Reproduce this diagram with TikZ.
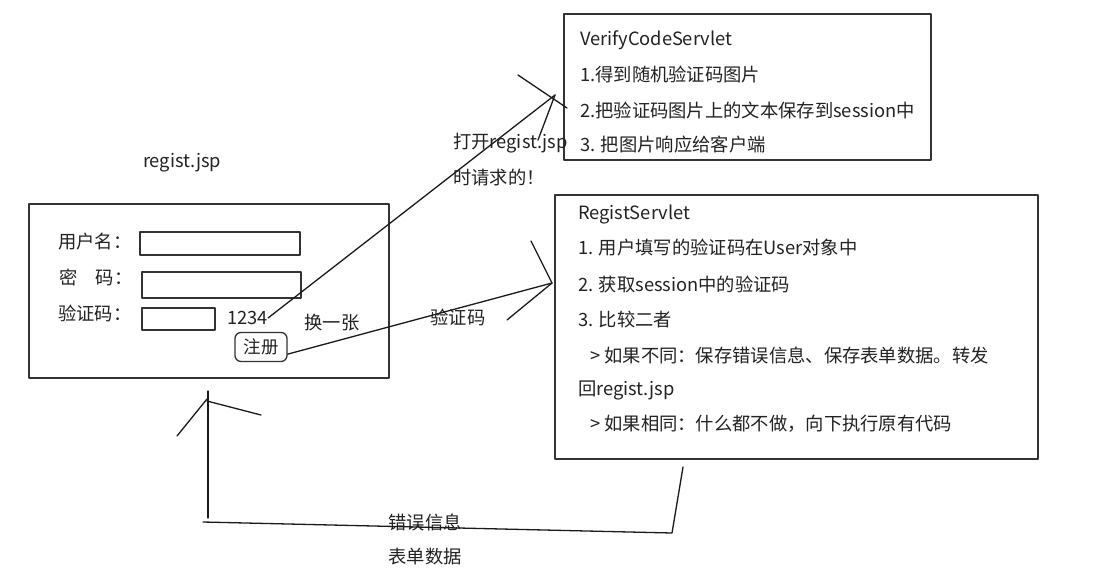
\documentclass[tikz,border=0pt]{standalone}
\usepackage{fontspec}
\setmainfont{Noto Sans CJK SC}
\usetikzlibrary{positioning}
\definecolor{sketchInk}{HTML}{222222}
\definecolor{sketchLine}{HTML}{333333}
\definecolor{sketchPen}{HTML}{1A1A1A}

\begin{document}
\begin{tikzpicture}[x=1pt,y=-1pt,line cap=round,line join=round]
\path[fill=white] (0,0) rectangle (1093,584);
\tikzset{box/.style={draw=sketchLine,line width=1.8pt,inner sep=0pt,anchor=north west},field/.style={draw=sketchLine,line width=1.5pt,inner sep=0pt,anchor=north west},txt/.style={text=sketchInk,inner sep=0pt,font=\fontsize{18.3}{22}\selectfont},pen/.style={draw=sketchPen,line width=1.3pt}}
% form page
\node[txt] (title) at (182,163) {regist.jsp};
\node[box,minimum width=360pt,minimum height=174pt] (form) at (28,203) {};
\node[txt,anchor=west] (userlbl) at (58,242) {用户名：};
\node[txt,anchor=west] (pwdlbl) at (59,277) {密　码：};
\node[txt,anchor=west] (codelbl) at (58,313) {验证码：};
\node[field,minimum width=160pt,minimum height=23pt] (userfield) at (139,231) {};
\node[field,minimum width=159pt,minimum height=26pt] (pwdfield) at (141,271) {};
\node[field,minimum width=73pt,minimum height=22pt] (codefield) at (141,307) {};
\node[txt,anchor=west] (codeimg) at (227,318) {1234};
\node[txt] (swap) at (332,323) {换一张};
\node[draw=sketchLine,line width=1.3pt,rounded corners=6pt,minimum width=52pt,minimum height=29pt,inner sep=0pt,font=\fontsize{17.5}{20}\selectfont,text=sketchInk] (regbtn) at (261,347) {注册};
% servlets
\node[box,minimum width=367pt,minimum height=146pt] (verify) at (563,13) {};
\node[txt,anchor=west] (v0) at (580,40) {VerifyCodeServlet};
\node[txt,anchor=west] (v1) at (580,74) {1.得到随机验证码图片};
\node[txt,anchor=west] (v2) at (580,110) {2.把验证码图片上的文本保存到session中};
\node[txt,anchor=west] (v3) at (580,145) {3. 把图片响应给客户端};
\node[box,minimum width=483pt,minimum height=264pt] (regist) at (554,194) {};
\node[txt,anchor=west] (r0) at (578,214) {RegistServlet};
\node[txt,anchor=west] (r1) at (578,248) {1. 用户填写的验证码在User对象中};
\node[txt,anchor=west] (r2) at (578,284) {2. 获取session中的验证码};
\node[txt,anchor=west] (r3) at (578,320) {3. 比较二者};
\node[txt,anchor=west] (r4) at (590,355) {> 如果不同：保存错误信息、保存表单数据。转发};
\node[txt,anchor=west] (r5) at (578,390) {回regist.jsp};
\node[txt,anchor=west] (r6) at (590,424) {> 如果相同：什么都不做，向下执行原有代码};
% labels on the lines
\node[txt,anchor=west] (openlbl) at (453,143) {打开regist.jsp};
\node[txt,anchor=west] (openlbl2) at (453,178) {时请求的！};
\node[txt] (sendlbl) at (458,317) {验证码};
\node[txt] (errlbl) at (425,522) {错误信息};
\node[txt] (datalbl) at (425,557) {表单数据};
% hand drawn arrows
\coordinate (vtip) at (555,95);
\coordinate (rtip) at (552,283);
\coordinate (rback) at (683,467);
\coordinate (ftip) at (208,391);
\draw[pen] (codeimg.east) -- (vtip);
\draw[pen] (518,75) -- (567,108);
\draw[pen] (vtip) -- (538,140);
\draw[pen] (regbtn.-15) -- (rtip);
\draw[pen] (531,241) -- (rtip) -- (507,320);
\draw[pen] (rback) -- (672,533) -- (203,522);
\draw[pen] (208,518) -- (ftip);
\draw[pen] (177,436) -- (207,399);
\draw[pen] (207,401) -- (261,415);
\end{tikzpicture}
\end{document}
